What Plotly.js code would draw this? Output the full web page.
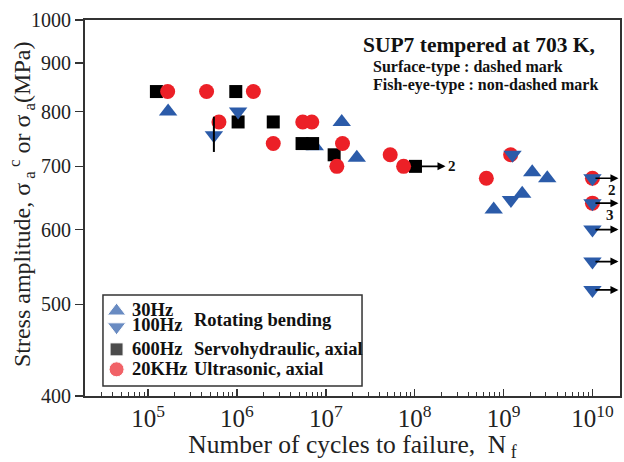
<!DOCTYPE html>
<html>
<head>
<meta charset="utf-8">
<script src="https://cdn.plot.ly/plotly-3.0.1.min.js"></script>
<style>
  html, body { margin: 0; padding: 0; background: #fff; }
  #chart { width: 624px; height: 462px; }
</style>
</head>
<body>
<div id="chart"></div>
<script>
// S-N data for SUP7 tempered at 703 K (stress amplitude in MPa vs cycles to failure)
const rb30X = [1.68e5, 7.5e6, 1.51e7, 2.23e7, 7.74e8, 1.62e9, 2.1e9, 3.1e9];
const rb30Y = [800, 735, 780, 715, 630, 655, 690, 680];

const rb100X = [5.5e5, 1.03e6, 1.26e9, 1.21e9, 1e10, 1e10, 1e10, 1e10, 1e10];
const rb100Y = [755, 800, 720, 645, 680, 640, 600, 555, 518];

const servo600X = [1.24e5, 9.7e5, 1.03e6, 2.56e6, 5.4e6, 7.1e6, 1.24e7, 1.02e8];
const servo600Y = [840, 840, 780, 780, 740, 740, 720, 700];

const ultra20kX = [1.66e5, 4.55e5, 1.53e6, 6.27e5, 2.56e6, 5.5e6, 6.95e6, 1.54e7, 1.33e7, 5.3e7, 7.5e7, 6.4e8, 1.2e9, 1e10, 1e10];
const ultra20kY = [840, 840, 840, 780, 740, 780, 780, 740, 700, 720, 700, 680, 720, 680, 640];

// surface-type failure (dashed mark)
const surfaceX = [5.5e5];
const surfaceLow = [725];
const surfaceHigh = [790];

// run-outs (unbroken specimens) and their counts
const runoutX = [1.02e8, 1e10, 1e10, 1e10, 1e10, 1e10];
const runoutY = [700, 680, 640, 600, 555, 518];
const runoutCount = ['2', '2', '3', '', '', ''];

const yTicks = [400, 500, 600, 700, 800, 900, 1000];
const yTickText = yTicks.map(String);

const legendNames = ['30Hz', '100Hz', '600Hz', '20KHz'];
const legendMethods = ['Rotating bending', 'Servohydraulic, axial', 'Ultrasonic, axial'];

const RED = '#ec2027';
const BLUE = '#2b5ba9';
const BLACK = '#000000';
const SERIF = 'Liberation Serif, Times New Roman, serif';

const traces = [
  { x: rb30X, y: rb30Y, type: 'scatter', mode: 'markers', name: legendNames[0],
    marker: { symbol: 'triangle-up', size: 16, color: BLUE } },
  { x: servo600X, y: servo600Y, type: 'scatter', mode: 'markers', name: legendNames[2],
    marker: { symbol: 'square', size: 13, color: BLACK } },
  { x: ultra20kX, y: ultra20kY, type: 'scatter', mode: 'markers', name: legendNames[3],
    marker: { symbol: 'circle', size: 15, color: RED } },
  { x: rb100X, y: rb100Y, type: 'scatter', mode: 'markers', name: legendNames[1],
    marker: { symbol: 'triangle-down', size: 16, color: BLUE } }
];

// vertical dash through surface-type points
surfaceX.forEach((sx, i) => {
  traces.push({ x: [sx, sx], y: [surfaceLow[i], surfaceHigh[i]], type: 'scatter', mode: 'lines',
    line: { color: BLACK, width: 2 }, hoverinfo: 'skip' });
});

// key symbols for the boxed legend, drawn on a hidden 0..1 overlay
const keyX = [0.059, 0.059, 0.059, 0.059];
const keyY = [0.226, 0.184, 0.124, 0.071];
const keySymbols = ['triangle-up', 'triangle-down', 'square', 'circle'];
const keyColors = [BLUE, BLUE, BLACK, RED];
const keySizes = [16, 16, 13, 15];
traces.push({ x: keyX, y: keyY, xaxis: 'x2', yaxis: 'y2', type: 'scatter', mode: 'markers',
  marker: { symbol: keySymbols, color: keyColors, size: keySizes }, hoverinfo: 'skip' });

const annotations = [];

// run-out arrows
runoutX.forEach((rx, i) => {
  const len = rx < 1e9 ? 30 : 26;
  annotations.push({
    x: Math.log10(rx), y: Math.log10(runoutY[i]), xref: 'x', yref: 'y',
    text: ' ', showarrow: true, ax: -len, ay: 0, xshift: len,
    arrowhead: 2, arrowsize: 1, arrowwidth: 1.6, arrowcolor: BLACK, standoff: 0, startstandoff: 0
  });
  if (runoutCount[i]) {
    const far = rx >= 1e9;
    annotations.push({
      x: Math.log10(rx), y: Math.log10(runoutY[i]), xref: 'x', yref: 'y',
      text: '<b>' + runoutCount[i] + '</b>', showarrow: false,
      xshift: far ? (i === 1 ? 20 : 18) : 37, yshift: far ? -12 : 0,
      xanchor: 'center', yanchor: 'middle',
      font: { family: SERIF, size: 15, color: '#111' }
    });
  }
});

// header text
annotations.push(
  { xref: 'paper', yref: 'paper', x: 0.515, y: 0.934, xanchor: 'left', yanchor: 'middle', showarrow: false,
    text: '<b>SUP7 tempered at 703 K,</b>', font: { family: SERIF, size: 21.5, color: '#111' } },
  { xref: 'paper', yref: 'paper', x: 0.534, y: 0.876, xanchor: 'left', yanchor: 'middle', showarrow: false,
    text: '<b>Surface-type : dashed mark</b>', font: { family: SERIF, size: 16, color: '#111' } },
  { xref: 'paper', yref: 'paper', x: 0.534, y: 0.826, xanchor: 'left', yanchor: 'middle', showarrow: false,
    text: '<b>Fish-eye-type : non-dashed mark</b>', font: { family: SERIF, size: 16, color: '#111' } }
);

// legend labels
const legFont = { family: SERIF, size: 18.5, color: '#111' };
const nameX = 0.0855, methodX = 0.200;
const nameY = [0.230, 0.188, 0.124, 0.071];
legendNames.forEach((n, i) => {
  annotations.push({ xref: 'paper', yref: 'paper', x: nameX, y: nameY[i], xanchor: 'left', yanchor: 'middle',
    showarrow: false, text: '<b>' + n + '</b>', font: legFont, borderpad: 0 });
});
annotations.push(
  { xref: 'paper', yref: 'paper', x: methodX, y: 0.202, xanchor: 'left', yanchor: 'middle', showarrow: false,
    text: '<b>' + legendMethods[0] + '</b>', font: legFont },
  { xref: 'paper', yref: 'paper', x: methodX, y: keyY[2], xanchor: 'left', yanchor: 'middle', showarrow: false,
    text: '<b>' + legendMethods[1] + '</b>', font: legFont },
  { xref: 'paper', yref: 'paper', x: methodX, y: keyY[3], xanchor: 'left', yanchor: 'middle', showarrow: false,
    text: '<b>' + legendMethods[2] + '</b>', font: legFont }
);

// y-axis title, placed beside the tick labels
annotations.push({
  xref: 'paper', yref: 'paper', x: -0.118, y: 0.51, xanchor: 'center', yanchor: 'middle',
  textangle: -90, showarrow: false,
  text: 'Stress amplitude, σ<sub> a</sub><sup> c</sup> or σ<sub> a</sub>(MPa)',
  font: { family: SERIF, size: 24, color: '#222' }
});

const layout = {
  width: 624, height: 462,
  margin: { l: 85, r: 4, t: 20, b: 66 },
  paper_bgcolor: '#ffffff', plot_bgcolor: '#ffffff',
  font: { family: SERIF, color: '#222' },
  showlegend: false,
  xaxis: {
    type: 'log', range: [4.29, 10.31], dtick: 1,
    exponentformat: 'power', showexponent: 'all',
    ticks: 'inside', ticklen: 7, tickwidth: 1.5, tickcolor: '#333',
    minor: { dtick: 'D1', ticks: 'inside', ticklen: 4, tickwidth: 1, tickcolor: '#333', showgrid: false },
    showgrid: false, zeroline: false,
    showline: true, linecolor: '#333', linewidth: 2, mirror: true,
    tickfont: { family: SERIF, size: 20, color: '#222' },
    title: { text: 'Number of cycles to failure,  N<sub> f</sub>', font: { family: SERIF, size: 25.5, color: '#222' }, standoff: 4 }
  },
  yaxis: {
    type: 'log', range: [Math.log10(400), 3],
    tickvals: yTicks, ticktext: yTickText,
    ticks: 'outside', ticklen: 8, tickwidth: 1.5, tickcolor: '#333',
    showgrid: false, zeroline: false,
    showline: true, linecolor: '#333', linewidth: 2, mirror: true,
    tickfont: { family: SERIF, size: 20, color: '#222' }
  },
  xaxis2: { overlaying: 'x', range: [0, 1], visible: false, fixedrange: true },
  yaxis2: { overlaying: 'y', range: [0, 1], visible: false, fixedrange: true },
  shapes: [
    { type: 'rect', xref: 'paper', yref: 'paper', x0: 0.0336, x1: 0.5178, y0: 0.0266, y1: 0.2686,
      line: { color: '#333', width: 1.5 }, fillcolor: 'rgba(0,0,0,0)', layer: 'below' }
  ],
  annotations: annotations
};

Plotly.newPlot('chart', traces, layout, { displayModeBar: false, staticPlot: true });
</script>
</body>
</html>
